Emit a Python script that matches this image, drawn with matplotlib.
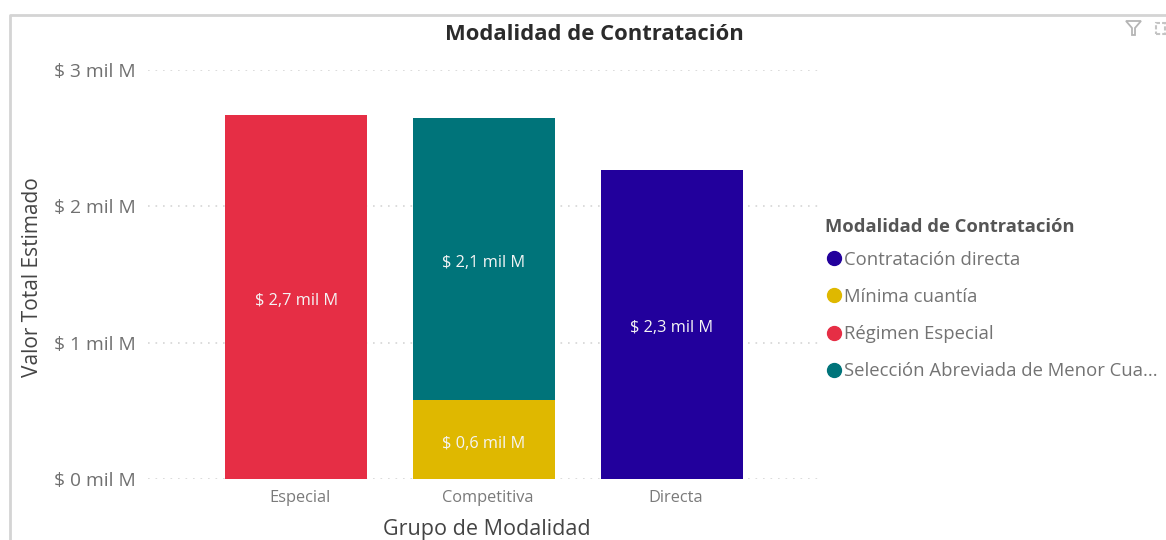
import matplotlib.pyplot as plt
from matplotlib.lines import Line2D
from matplotlib.patches import Polygon, Rectangle

grupos = ["Especial", "Competitiva", "Directa"]
series = ["Contratación directa", "Mínima cuantía", "Régimen Especial",
          "Selección Abreviada de Menor Cua..."]
directa = [0, 0, 2.27]
minima = [0, 0.58, 0]
especial = [2.67, 0, 0]
seleccion = [0, 2.07, 0]
ticks = [0, 1, 2, 3]
tick_labels = ["$ 0 mil M", "$ 1 mil M", "$ 2 mil M", "$ 3 mil M"]
etiquetas = ["$ 2,3 mil M", "$ 0,6 mil M", "$ 2,7 mil M", "$ 2,1 mil M"]
colores = ["#22009C", "#DFB800", "#E62E45", "#00747A"]

W, H = 1166, 540
plt.rcParams['font.family'] = ['Open Sans', 'DejaVu Sans']

fig = plt.figure(figsize=(W / 100, H / 100), dpi=100)
ax = fig.add_axes([148 / W, 1 - 479 / H, (820 - 148) / W, (479 - 70) / H])

x = list(range(len(grupos)))
base = [0, 0, 0]
# orden de apilado: amarillo abajo, verde arriba
for vals, col, etq in zip([directa, especial, minima, seleccion],
                          [colores[0], colores[2], colores[1], colores[3]],
                          [etiquetas[0], etiquetas[2], etiquetas[1], etiquetas[3]]):
    ax.bar(x, vals, 0.757, bottom=base, color=col, zorder=3)
    for i, v in enumerate(vals):
        if v > 0:
            ax.annotate(etq, (i, base[i] + v / 2), xytext=(0, -3), textcoords="offset points",
                        color="#F4F4F4", fontsize=11.8, ha="center", va="center", zorder=4)
    base = [b + v for b, v in zip(base, vals)]

ax.set_xlim(-0.79, 2.79)
ax.set_ylim(0, 3)
# las etiquetas del eje x van un poco a la derecha de la barra
ax.set_xticks([i + 0.02 for i in x])
ax.set_xticklabels(grupos, fontsize=11.8, color="#7A7A7A")
ax.set_yticks(ticks)
ax.set_yticklabels(tick_labels, fontsize=13.8, color="#707070")
ax.tick_params(length=0)
ax.tick_params(axis="x", pad=8)
ax.tick_params(axis="y", pad=9)
ax.grid(axis="y", color="#D6D6D6", linestyle=(0, (1, 3.5)), linewidth=1.2)
ax.set_axisbelow(True)
for s in ax.spines.values():
    s.set_visible(False)

fig.text(594 / W, 1 - 35 / H, "Modalidad de Contratación", fontsize=15.8,
         fontweight="bold", color="#2B2B2B", ha="center", va="center")
fig.text(33 / W, 1 - 277 / H, "Valor Total Estimado", fontsize=15, color="#444444",
         rotation=90, ha="center", va="center")
fig.text(487 / W, 1 - 530 / H, "Grupo de Modalidad", fontsize=15.5, color="#444444",
         ha="center", va="center")

fig.text(825 / W, 1 - 227 / H, "Modalidad de Contratación", fontsize=13.25,
         fontweight="bold", color="#555555", ha="left", va="center")
handles = [Line2D([], [], linestyle="none", marker="o", markersize=10, color=c)
           for c in colores]
leg = fig.legend(handles, series, loc="upper left", bbox_to_anchor=(809 / W, 1 - 234 / H),
                 frameon=False, fontsize=13.3, labelcolor="#737373",
                 handlelength=0.86, handletextpad=0.14, labelspacing=1.04)

# marco del visual e iconos
fig.add_artist(Line2D([10 / W, 10 / W, 1], [0, 1 - 15 / H, 1 - 15 / H],
                      color="#D4D4D4", linewidth=2))
fig.add_artist(Polygon([[1126 / W, 1 - 21 / H], [1141 / W, 1 - 21 / H], [1135 / W, 1 - 28 / H],
                        [1135 / W, 1 - 35 / H], [1132 / W, 1 - 35 / H], [1132 / W, 1 - 28 / H]],
                       closed=True, fill=False, edgecolor="#B5B5B5", linewidth=1.3,
                       transform=fig.transFigure))
fig.add_artist(Rectangle((1156 / W, 1 - 34 / H), 9 / W, 11 / H, fill=False,
                         edgecolor="#C4C4C4", linewidth=1.5, linestyle=(0, (2, 1)),
                         transform=fig.transFigure))

fig.savefig("out.png", dpi=100)
